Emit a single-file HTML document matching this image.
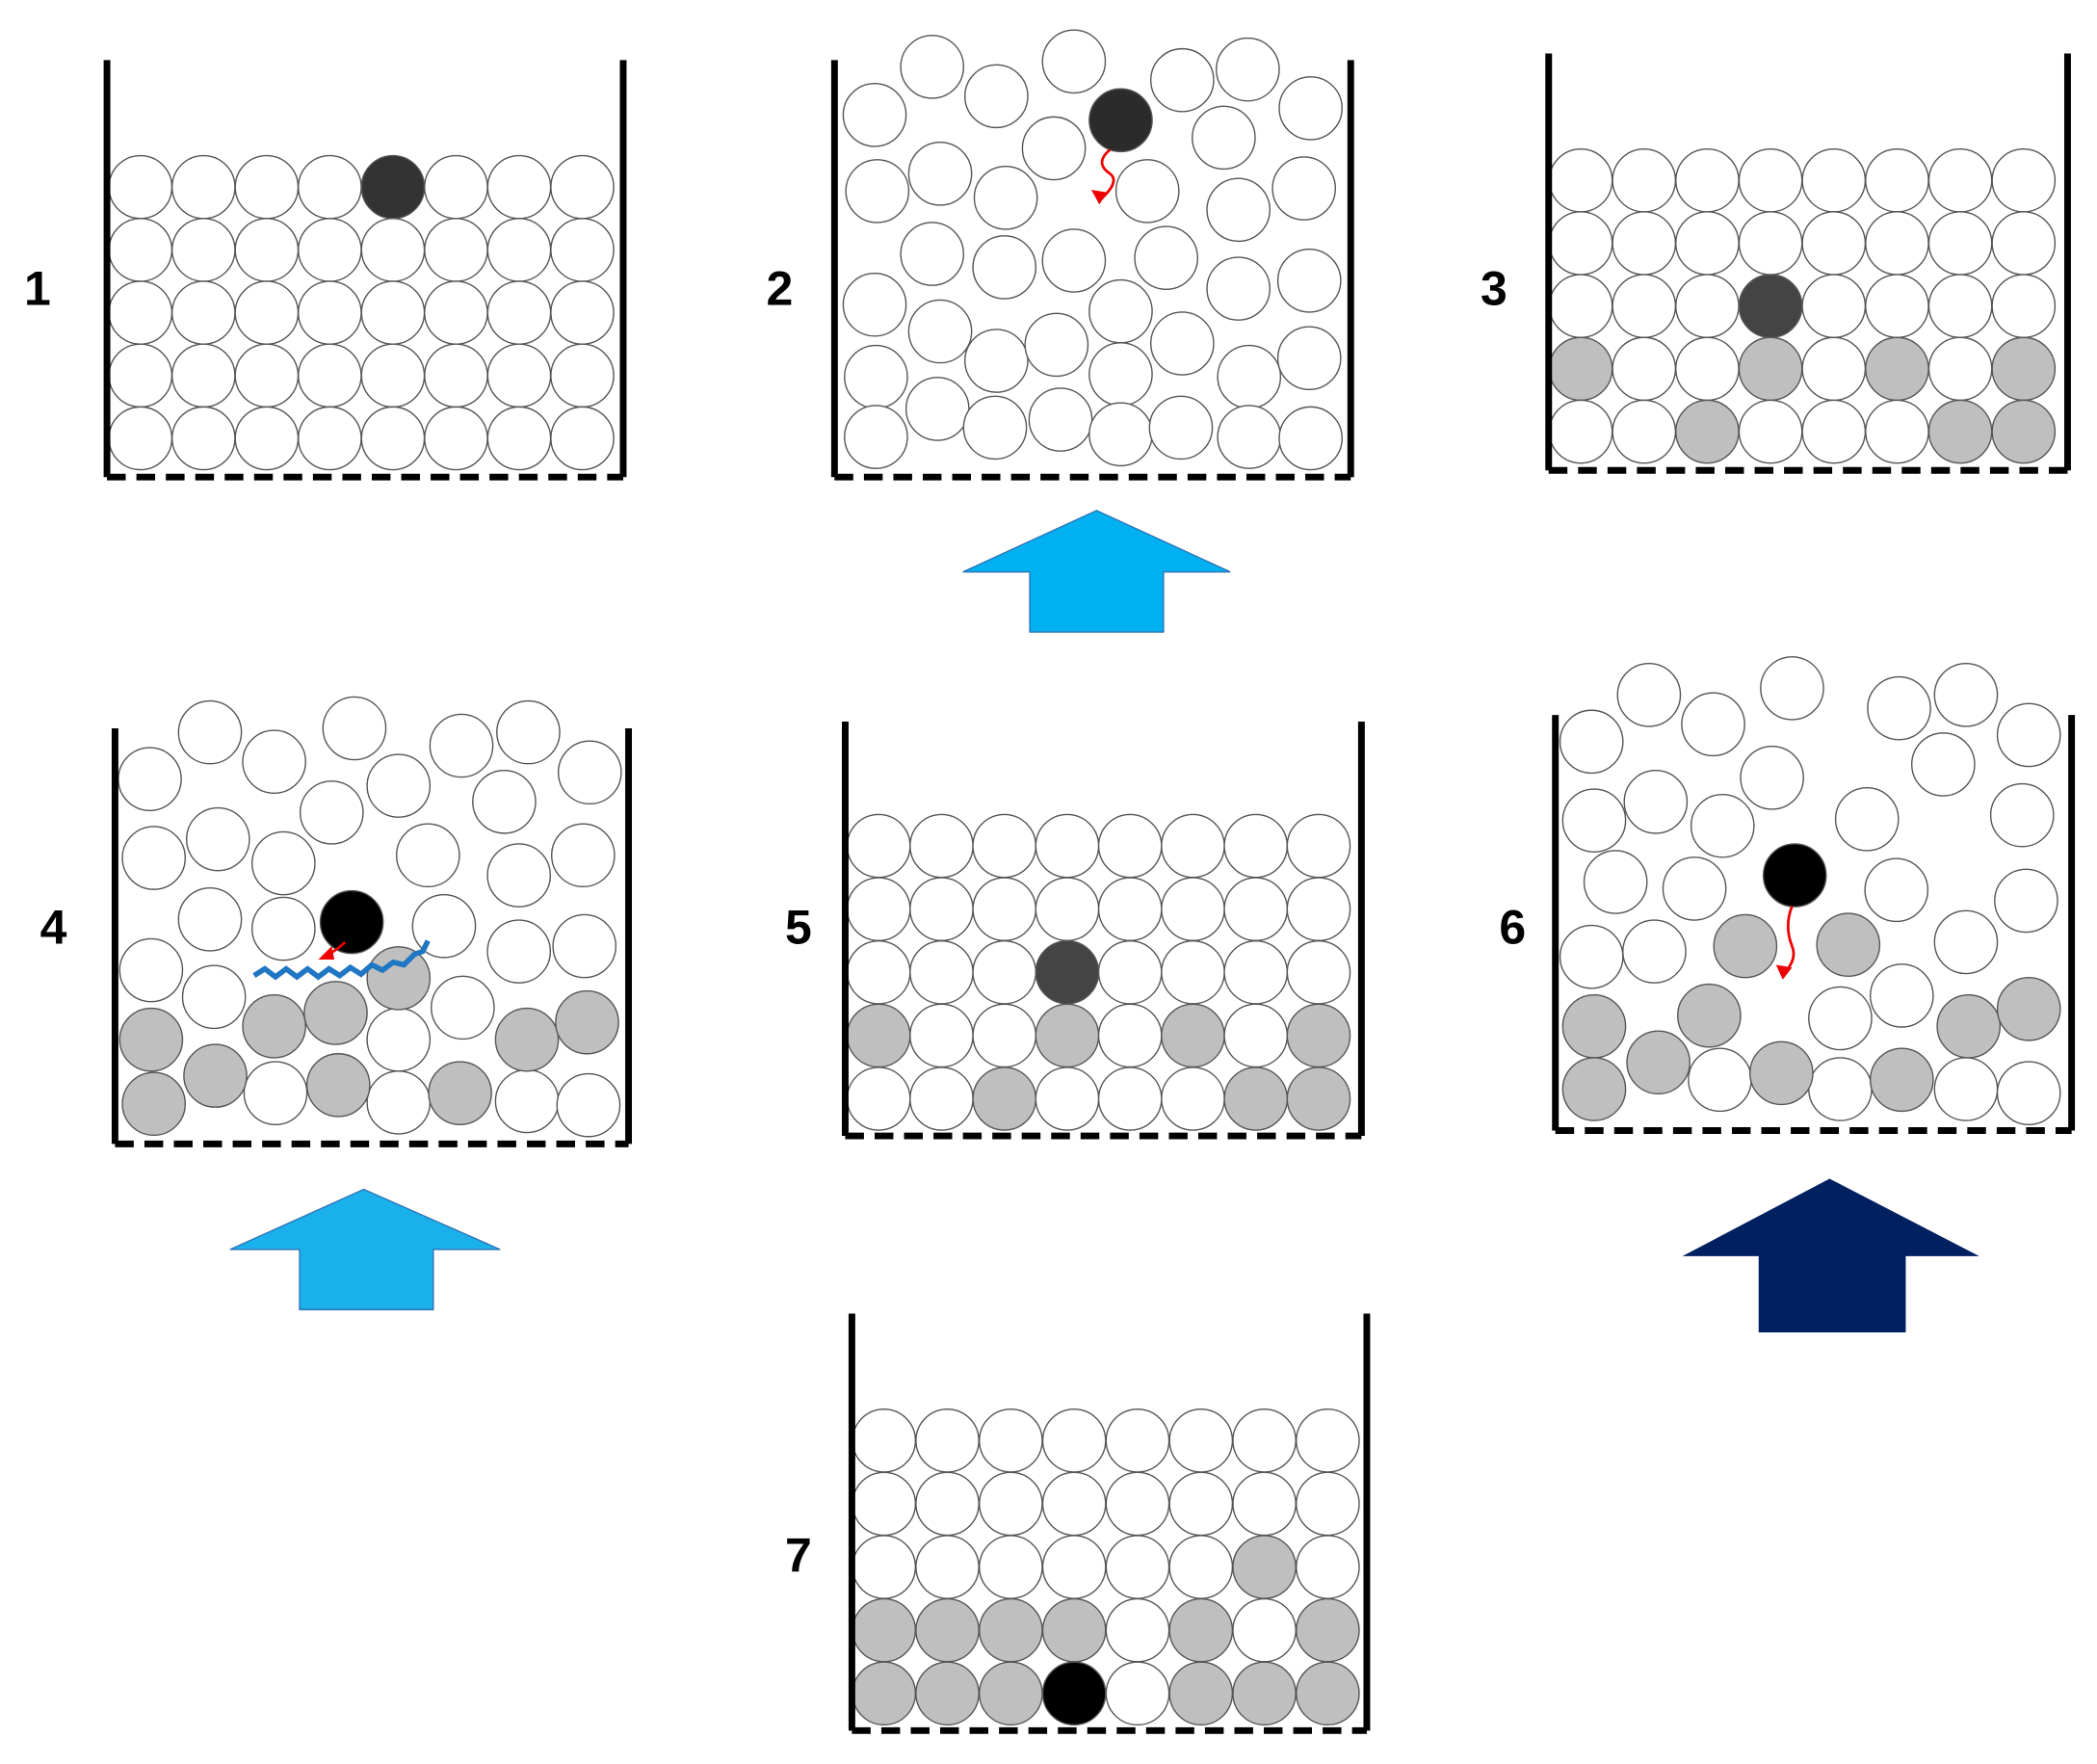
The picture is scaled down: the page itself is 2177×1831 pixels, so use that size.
<!DOCTYPE html>
<html><head><meta charset="utf-8">
<style>
html,body{margin:0;padding:0;background:#fff;}
svg{display:block;}
text{font-family:"Liberation Sans",sans-serif;font-weight:bold;font-size:36px;fill:#000;}
</style></head>
<body>
<svg id="s" width="2177" height="1831" viewBox="0 0 1568 1320" preserveAspectRatio="none" xmlns="http://www.w3.org/2000/svg">
<rect width="1568" height="1320" fill="#fff"/>
<g id="g"></g>
<polygon points="720,428 820,382 920,428 870,428 870,473 770,473 770,428" fill="#00b0f0" stroke="#2e75b6" stroke-width="1"/>
<polygon points="172,935 272,890 374,935 324,935 324,980 224,980 224,935" fill="#1ab0ec" stroke="#2e75b6" stroke-width="1"/>
<polygon points="1258,940 1368,882 1480,940 1425,940 1425,997 1315,997 1315,940" fill="#002060"/>
<text x="18" y="228">1</text>
<text x="573" y="228">2</text>
<text x="1107" y="228">3</text>
<text x="30" y="706">4</text>
<text x="587" y="706">5</text>
<text x="1121" y="706">6</text>
<text x="587" y="1176">7</text>
</svg>
<script>
var g=document.getElementById('g');var h='';
function c(x,y,f){h+='<circle cx="'+x+'" cy="'+y+'" r="23.5" fill="'+(f||'#fff')+'" stroke="#555" stroke-width="1"/>';}
function box(l,r,t,b){h+='<path d="M'+l+' '+t+'V'+b+'M'+r+' '+t+'V'+b+'" stroke="#000" stroke-width="5" fill="none"/>';
h+='<line x1="'+l+'" y1="'+b+'" x2="'+r+'" y2="'+b+'" stroke="#000" stroke-width="5" stroke-dasharray="14,8"/>';}
function grid(x0,y0,dx,dy,sp){for(var r=0;r<5;r++)for(var k=0;k<8;k++){var f=sp[r+','+k]||'#fff';c(x0+k*dx,y0+r*dy,f);}}
var G='#bfbfbf',D='#333',B='#000';
// panel 1
grid(105,140,47.2,47,{'0,4':D});box(80,466,45,357);
// panel 3
grid(1182,135,47.3,47,{'3,0':G,'3,3':G,'3,5':G,'3,7':G,'4,2':G,'4,6':G,'4,7':G,'2,3':'#444'});box(1158,1546,40,352);
// panel 5
grid(657,633,47,47.3,{'3,0':G,'3,3':G,'3,5':G,'3,7':G,'4,2':G,'4,6':G,'4,7':G,'2,3':'#444'});box(632,1018,540,850);
// panel 7
grid(661,1078,47.4,47.3,{'2,6':G,'3,0':G,'3,1':G,'3,2':G,'3,3':G,'3,5':G,'3,7':G,'4,0':G,'4,1':G,'4,2':G,'4,5':G,'4,6':G,'4,7':G,'4,3':B});box(637,1022,983,1295);
// panel 2
[[697,50],[745,72],[803,46],[884,60],[933,52],[654,86],[788,111],[915,103],[980,81],[656,143],[703,130],[752,148],[858,143],[926,157],[975,141],[697,190],[751,200],[803,195],[872,193],[926,216],[979,210],[654,228],[703,248],[745,270],[790,258],[838,233],[884,257],[934,282],[979,268],[655,282],[701,306],[744,320],[793,314],[838,280],[838,325],[883,320],[934,327],[980,328],[655,327]].forEach(function(p){c(p[0],p[1]);});
c(838,90,'#2b2b2b');
h+='<path d="M830 112 q-12 10 0 18 q8 6 -8 20" stroke="#e00" stroke-width="2" fill="none"/><polygon points="816,142 822,153 828,144" fill="#e00"/>';
box(624,1010,45,357);
// panel 4
[[157,548],[205,570],[265,545],[345,558],[395,548],[112,583],[248,608],[298,588],[377,600],[441,578],[115,642],[163,628],[212,646],[320,640],[388,655],[436,640],[157,688],[212,695],[332,693],[388,712],[437,708],[113,726],[160,746],[346,754],[298,778],[206,818],[298,825],[394,824],[440,827]].forEach(function(p){c(p[0],p[1]);});
[[298,732],[251,758],[205,768],[113,778],[161,805],[115,826],[253,812],[344,818],[394,778],[439,765]].forEach(function(p){c(p[0],p[1],G);});
c(263,690,B);
h+='<path d="M190 730 l8 -5 l8 6 l8 -6 l8 6 l8 -6 l8 6 l8 -6 l8 5 l8 -6 l8 5 l8 -7 l8 4 l8 -6 l8 2 l8 -8 l6 -2 l4 -8" stroke="#1f77c4" stroke-width="4" fill="none"/>';
h+='<path d="M258 705 q-6 6 -14 10" stroke="#e00" stroke-width="2" fill="none"/><polygon points="238,718 248,708 250,718" fill="#e00"/>';
box(86,470,545,856);
// panel 6
[[1233,520],[1281,542],[1340,515],[1420,530],[1470,520],[1190,555],[1325,582],[1453,572],[1517,550],[1192,614],[1238,600],[1288,618],[1396,613],[1512,610],[1208,660],[1267,665],[1418,666],[1515,674],[1190,716],[1237,712],[1470,705],[1422,745],[1376,762],[1286,808],[1376,815],[1470,815],[1517,818]].forEach(function(p){c(p[0],p[1]);});
[[1305,708],[1382,707],[1278,760],[1192,768],[1240,795],[1192,815],[1332,803],[1422,808],[1472,768],[1517,755]].forEach(function(p){c(p[0],p[1],G);});
c(1342,655,B);
h+='<path d="M1340 678 q-6 15 0 30 q4 10 -6 20" stroke="#e00" stroke-width="2" fill="none"/><polygon points="1328,722 1333,733 1340,724" fill="#e00"/>';
box(1163,1549,535,846);
g.innerHTML=h;
</script>
</body></html>
